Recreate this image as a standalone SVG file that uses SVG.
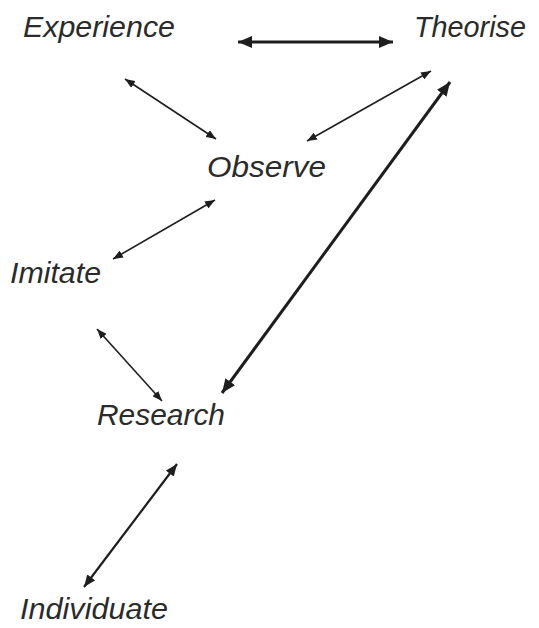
<svg xmlns="http://www.w3.org/2000/svg" width="539" height="628" viewBox="0 0 539 628">
  <style>
    .lbl { font-family: "Liberation Sans", Arial, sans-serif; font-style: italic; font-size: 30px; fill: #2b2b2b; }
    .thin { stroke: #1e1e1e; stroke-width: 1.6; fill: none; marker-start: url(#hs); marker-end: url(#hs); }
    .mid { stroke: #1e1e1e; stroke-width: 2.2; fill: none; marker-start: url(#hm); marker-end: url(#hm); }
    .thick { stroke: #1e1e1e; stroke-width: 3; fill: none; marker-start: url(#hl); marker-end: url(#hl); }
  </style>
  <defs>
    <marker id="hs" markerUnits="userSpaceOnUse" viewBox="0 0 10 8" refX="10" refY="4" markerWidth="10" markerHeight="8" orient="auto-start-reverse">
      <path d="M0,0 L10,4 L0,8 Z" fill="#1e1e1e"/>
    </marker>
    <marker id="hm" markerUnits="userSpaceOnUse" viewBox="0 0 12 10" refX="12" refY="5" markerWidth="12" markerHeight="10" orient="auto-start-reverse">
      <path d="M0,0 L12,5 L0,10 Z" fill="#1e1e1e"/>
    </marker>
    <marker id="hl" markerUnits="userSpaceOnUse" viewBox="0 0 14 12" refX="14" refY="6" markerWidth="14" markerHeight="12" orient="auto-start-reverse">
      <path d="M0,0 L14,6 L0,12 Z" fill="#1e1e1e"/>
    </marker>
  </defs>
  <rect width="539" height="628" fill="#ffffff"/>
  <g id="connectors">
    <line class="thick" x1="238" y1="42" x2="393" y2="42"/>
    <line class="thin" x1="125" y1="79" x2="216" y2="139"/>
    <line class="thin" x1="431" y1="71" x2="307" y2="141"/>
    <line class="thick" x1="222" y1="393" x2="450" y2="82"/>
    <line class="thin" x1="215" y1="200" x2="113" y2="259"/>
    <line class="thin" x1="97" y1="329" x2="162" y2="401"/>
    <line class="mid" x1="177" y1="464" x2="84" y2="587"/>
  </g>
  <g id="experience"><text class="lbl" x="23" y="37" textLength="152" lengthAdjust="spacingAndGlyphs">Experience</text></g>
  <g id="theorise"><text class="lbl" x="414" y="37" textLength="112" lengthAdjust="spacingAndGlyphs">Theorise</text></g>
  <g id="observe"><text class="lbl" x="207" y="177" textLength="119" lengthAdjust="spacingAndGlyphs">Observe</text></g>
  <g id="imitate"><text class="lbl" x="10" y="283" textLength="91" lengthAdjust="spacingAndGlyphs">Imitate</text></g>
  <g id="research"><text class="lbl" x="97" y="425" textLength="128" lengthAdjust="spacingAndGlyphs">Research</text></g>
  <g id="individuate"><text class="lbl" x="20" y="619" textLength="148" lengthAdjust="spacingAndGlyphs">Individuate</text></g>
</svg>
